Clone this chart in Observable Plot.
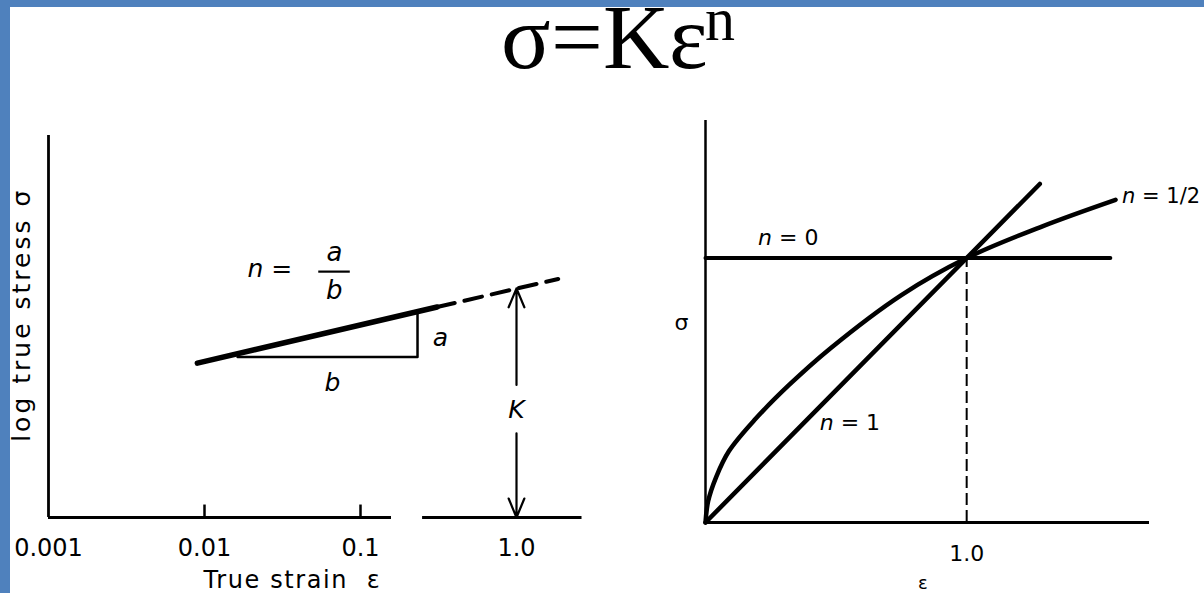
<!DOCTYPE html>
<html>
<head>
<meta charset="utf-8">
<script src="https://cdn.jsdelivr.net/npm/d3@7"></script>
<script src="https://cdn.jsdelivr.net/npm/@observablehq/plot@0.6"></script>
<style>
  /* serif face with metrics trimmed to the glyphs actually drawn */
  @font-face {
    font-family: "TitleSerif";
    src: local("Liberation Serif"), local("LiberationSerif"), local("Times New Roman");
    ascent-override: 62%;
    descent-override: 21.6%;
    line-gap-override: 0%;
  }
  html, body { margin: 0; padding: 0; background: #fff; }
  body { width: 1204px; height: 593px; position: relative; overflow: hidden; }
  .bar-top { position: absolute; left: 0; top: 0; width: 1204px; height: 7px; background: #4f81bd; z-index: 2; }
  .bar-left { position: absolute; left: 0; top: 0; width: 10px; height: 593px; background: #4f81bd; z-index: 2; }
  .title {
    position: absolute; font-family: "TitleSerif", "Liberation Serif", serif;
    color: #000; white-space: nowrap; line-height: 0.84;
  }
  #title-main { left: 501px; top: 11px; font-size: 92px; }
  #title-exp { left: 705px; top: 3px; font-size: 60px; }
  #left, #right { position: absolute; top: 0; }
  #left { left: 0; }
  #right { left: 600px; }
  svg { overflow: visible; }
</style>
</head>
<body>
<div class="bar-top"></div>
<div class="bar-left"></div>
<div class="title" id="title-main">σ=Kε</div>
<div class="title" id="title-exp">n</div>
<div id="left"></div>
<div id="right"></div>
<script>
// ---- Log–log flow curve (left panel) ----
const strainTicks = [0.001, 0.01, 0.1, 1];
const strainTickLabels = ["0.001", "0.01", "0.1", "1.0"];
const strainTickMarks = [0.01, 0.1];

// measured portion of the flow curve
const flowStrain = [0.009, 0.31];
const flowLogStress = [0.99, 1.35];
// extrapolation to unit strain
const extrapStrain = [0.31, 1.85];
const extrapLogStress = [1.35, 1.53];

// slope triangle: run b, then rise a
const triangleStrain = [0.0163, 0.232, 0.232];
const triangleLogStress = [1.03, 1.03, 1.32];

// K = stress at unit strain
const kStrain = 1;
const kLogStress = 1.47;

// broken strain axis
const axisStart = [0.001, 0.25];
const axisEnd = [0.158, 2.63];

const leftNoteText = ["a", "b", "K", "n ="];
const leftNoteStrain = [0.325, 0.066, 1, 0.0262];
const leftNoteLogStress = [1.15, 0.865, 0.69, 1.596];

const xTitle = "True strain  ε";
const yTitle = "log true stress σ";

const flow = flowStrain.map((s, i) => ({s, v: flowLogStress[i]}));
const extrap = extrapStrain.map((s, i) => ({s, v: extrapLogStress[i]}));
const triangle = triangleStrain.map((s, i) => ({s, v: triangleLogStress[i]}));
const axisSegments = axisStart.map((s, i) => ({x1: s, x2: axisEnd[i]}));
const leftNotes = leftNoteText.map((t, i) => ({t, s: leftNoteStrain[i], v: leftNoteLogStress[i]}));
const tickLabelOf = new Map(strainTicks.map((d, i) => [d, strainTickLabels[i]]));

const sans = "'DejaVu Sans', sans-serif";

const left = Plot.plot({
  width: 600, height: 593,
  marginLeft: 48, marginRight: 84, marginTop: 135, marginBottom: 76,
  x: {type: "log", domain: [0.001, 1], axis: null},
  y: {type: "linear", domain: [0, 2.45], axis: null},
  style: {fontFamily: sans, background: "transparent", color: "#000"},
  marks: [
    Plot.ruleX([0.001], {y1: 0, y2: 2.45, stroke: "#000", strokeWidth: 2.8}),
    Plot.ruleY(axisSegments, {y: 0, x1: "x1", x2: "x2", stroke: "#000", strokeWidth: 3.2}),
    // short upward ticks on the strain axis
    Plot.ruleX(strainTickMarks, {x: d => d, y1: 0, y2: 0.08, stroke: "#000", strokeWidth: 2.5}),
    Plot.text(strainTicks, {x: d => d, y: 0, dy: 31, text: d => tickLabelOf.get(d), fontSize: 24}),
    Plot.line(flow, {x: "s", y: "v", stroke: "#000", strokeWidth: 5.5, strokeLinecap: "round"}),
    Plot.line(extrap, {x: "s", y: "v", stroke: "#000", strokeWidth: 4, strokeDasharray: "18,10"}),
    Plot.line(triangle, {x: "s", y: "v", stroke: "#000", strokeWidth: 2.5}),
    Plot.arrow([{v1: 0.85, v2: kLogStress}, {v1: 0.54, v2: 0}], {
      x1: () => kStrain, x2: () => kStrain, y1: "v1", y2: "v2",
      stroke: "#000", strokeWidth: 2.2, headLength: 14, headAngle: 45
    }),
    Plot.text(leftNotes, {x: "s", y: "v", text: "t", fontSize: 25, fontStyle: "italic"}),
    Plot.text(["a"], {x: () => 0.068, y: () => 1.70, text: d => d, fontSize: 26, fontStyle: "italic"}),
    Plot.ruleY([1.577], {x1: 0.054, x2: 0.086, stroke: "#000", strokeWidth: 2.2}),
    Plot.text(["b"], {x: () => 0.068, y: () => 1.455, text: d => d, fontSize: 26, fontStyle: "italic"}),
    Plot.text([xTitle], {x: () => 0.0366, y: () => 0, dy: 63, text: d => d, fontSize: 24}),
    Plot.text([yTitle], {x: () => 0.001, y: () => 1.30, dx: -27, rotate: -90, text: d => d, fontSize: 25})
  ]
});
document.getElementById("left").append(left);

// ---- Linear σ–ε curves for several n (right panel) ----
const zeroStrain = [0, 1.55];
const zeroStress = [1, 1];
const oneStrain = [0, 1.28];
const oneStress = [0, 1.28];
const halfStrain = [0, 0.01, 0.04, 0.09, 0.19, 0.32, 0.48, 0.75, 1.0, 1.29, 1.57];
const halfStress = [0, 0.08, 0.17, 0.27, 0.39, 0.52, 0.66, 0.86, 1.0, 1.12, 1.22];

const rightNoteText = ["n = 0", "n = 1", "σ"];
const rightNoteStrain = [0.317, 0.553, -0.092];
const rightNoteStress = [1.076, 0.375, 0.754];

const toPts = (xs, ys) => xs.map((s, i) => ({s, v: ys[i]}));
const rightNotes = rightNoteText.map((t, i) => ({t, s: rightNoteStrain[i], v: rightNoteStress[i]}));

const right = Plot.plot({
  width: 604, height: 593,
  marginLeft: 105, marginRight: 55, marginTop: 120, marginBottom: 71,
  x: {domain: [0, 1.7], axis: null},
  y: {domain: [0, 1.52], axis: null},
  style: {fontFamily: sans, background: "transparent", color: "#000"},
  marks: [
    Plot.ruleX([0], {stroke: "#000", strokeWidth: 2.5}),
    Plot.ruleY([0], {stroke: "#000", strokeWidth: 3.2}),
    Plot.ruleX([1], {y1: 0, y2: 1, stroke: "#000", strokeWidth: 2, strokeDasharray: "12,5"}),
    Plot.line(toPts(zeroStrain, zeroStress), {x: "s", y: "v", stroke: "#000", strokeWidth: 4}),
    Plot.line(toPts(oneStrain, oneStress), {x: "s", y: "v", stroke: "#000", strokeWidth: 4.5}),
    Plot.line(toPts(halfStrain, halfStress), {x: "s", y: "v", stroke: "#000", strokeWidth: 4.5, curve: "catmull-rom"}),
    Plot.text(rightNotes, {x: "s", y: "v", text: "t", fontSize: 22}),
    Plot.text(["n = 1/2"], {x: () => 1.595, y: () => 1.235, text: d => d, fontSize: 21, textAnchor: "start"}),
    Plot.text(["1.0"], {x: () => 1, y: () => 0, dy: 31, text: d => d, fontSize: 22}),
    Plot.text(["ε"], {x: () => 0.832, y: () => 0, dy: 61, text: d => d, fontSize: 18})
  ]
});
document.getElementById("right").append(right);

// axis titles are set wide; the symbol n in the curve labels is italic
const allText = d3.selectAll("#left text, #right text");
allText.filter(function() { return this.textContent === xTitle; }).style("letter-spacing", "1.6px");
allText.filter(function() { return this.textContent === yTitle; }).style("letter-spacing", "3px");
allText.filter(function() { return /^n = \d/.test(this.textContent); }).each(function() {
  const label = this.textContent;
  const t = d3.select(this).text(null);
  t.append("tspan").style("font-style", "italic").text("n");
  t.append("tspan").text(label.slice(1));
});
</script>
</body>
</html>
